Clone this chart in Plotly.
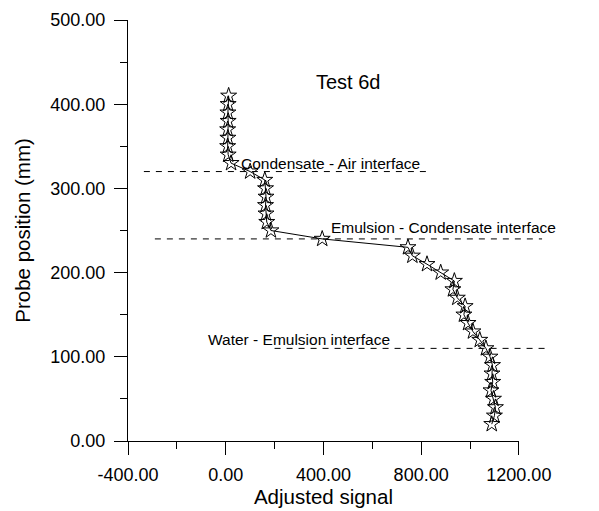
import plotly.graph_objects as go

# ---- data ----
probe_position = [410, 400, 390, 380, 370, 360, 350, 340, 330, 320,
                  310, 300, 290, 280, 270, 260, 250, 240, 230, 220,
                  210, 200, 190, 180, 170, 160, 150, 140, 130, 120,
                  110, 100, 90, 80, 70, 60, 50, 40, 30, 20]
adjusted_signal = [12, 10, 9, 10, 8, 9, 8, 10, 22, 100,
                   160, 163, 165, 163, 165, 168, 185, 395, 746, 764,
                   824, 880, 936, 930, 948, 980, 975, 992, 1012, 1040,
                   1065, 1082, 1092, 1090, 1093, 1086, 1096, 1104, 1100, 1089]

interface_names = ["Condensate - Air interface",
                   "Emulsion - Condensate interface",
                   "Water - Emulsion interface"]
interface_level = [320, 240, 110]
interface_x_start = [-335, -290, 200]
interface_x_end = [838, 1295, 1320]
label_x = [429, 893, 300]
label_y = [330, 254, 120]

title_text = "Test 6d"
title_pos = (500, 426)

x_tick_vals = [-400, 0, 400, 800, 1200]
x_tick_text = ["-400.00", "0.00", "400.00", "800.00", "1200.00"]
y_tick_vals = [0, 100, 200, 300, 400, 500]
y_tick_text = ["0.00", "100.00", "200.00", "300.00", "400.00", "500.00"]

x_range = [-400, 1200]
y_range = [0, 500]

# ---- layout geometry ----
W, H = 599, 511
ML, MR, MT, MB = 128, 10, 16, 69
plot_w = W - ML - MR
axis_w = 421
dom_end = axis_w / plot_w
x2_range = [x_range[0], x_range[0] + (x_range[1] - x_range[0]) / dom_end]

fig = go.Figure()

# interface dashed lines (on a wider, invisible x axis sharing the same scale)
for lvl, xs, xe in zip(interface_level, interface_x_start, interface_x_end):
    fig.add_trace(go.Scatter(
        x=[xs, xe], y=[lvl, lvl], mode="lines",
        line=dict(color="black", width=1, dash="6px,6px"),
        xaxis="x2", yaxis="y", hoverinfo="skip", showlegend=False))

fig.add_trace(go.Scatter(
    x=adjusted_signal, y=probe_position, mode="lines+markers",
    line=dict(color="black", width=1),
    marker=dict(symbol="star-open", size=12, color="black",
                line=dict(color="black", width=1)),
    showlegend=False, cliponaxis=False))

font_family = "Liberation Sans, Arial, sans-serif"

for name, lx, ly in zip(interface_names, label_x, label_y):
    fig.add_annotation(x=lx, y=ly, xref="x", yref="y", text=name,
                       showarrow=False, font=dict(size=15.5, color="black"))
fig.add_annotation(x=title_pos[0], y=title_pos[1], xref="x", yref="y",
                   text=title_text, showarrow=False,
                   font=dict(size=20, color="black"))

fig.update_layout(
    width=W, height=H,
    margin=dict(l=ML, r=MR, t=MT, b=MB),
    paper_bgcolor="white", plot_bgcolor="rgba(0,0,0,0)",
    font=dict(family=font_family, color="black"),
    xaxis=dict(
        domain=[0, dom_end], range=x_range, anchor="y",
        tickmode="array", tickvals=x_tick_vals, ticktext=x_tick_text,
        ticks="outside", ticklen=13, tickwidth=1, tickcolor="black",
        showline=True, linecolor="black", linewidth=1,
        showgrid=False, zeroline=False,
        tickfont=dict(size=18), ticklabelstandoff=4,
        minor=dict(ticks="outside", ticklen=7, tickmode="linear",
                   dtick=200, tick0=-400,
                   tickcolor="black", showgrid=False),
        title=dict(text="Adjusted signal", font=dict(size=20.5), standoff=2),
    ),
    xaxis2=dict(domain=[0, 1], range=x2_range, anchor="y", visible=False,
                showgrid=False, zeroline=False),
    yaxis=dict(
        domain=[0, 1], range=y_range, anchor="x",
        tickmode="array", tickvals=y_tick_vals, ticktext=y_tick_text,
        ticks="outside", ticklen=13, tickwidth=1, tickcolor="black",
        showline=True, linecolor="black", linewidth=1,
        showgrid=False, zeroline=False,
        tickfont=dict(size=18), ticklabelstandoff=5,
        minor=dict(ticks="outside", ticklen=7, tickmode="linear",
                   dtick=50, tick0=0,
                   tickcolor="black", showgrid=False),
        title=dict(text="Probe position (mm)", font=dict(size=20.5), standoff=14),
    ),
)

fig.write_html("out.html")
